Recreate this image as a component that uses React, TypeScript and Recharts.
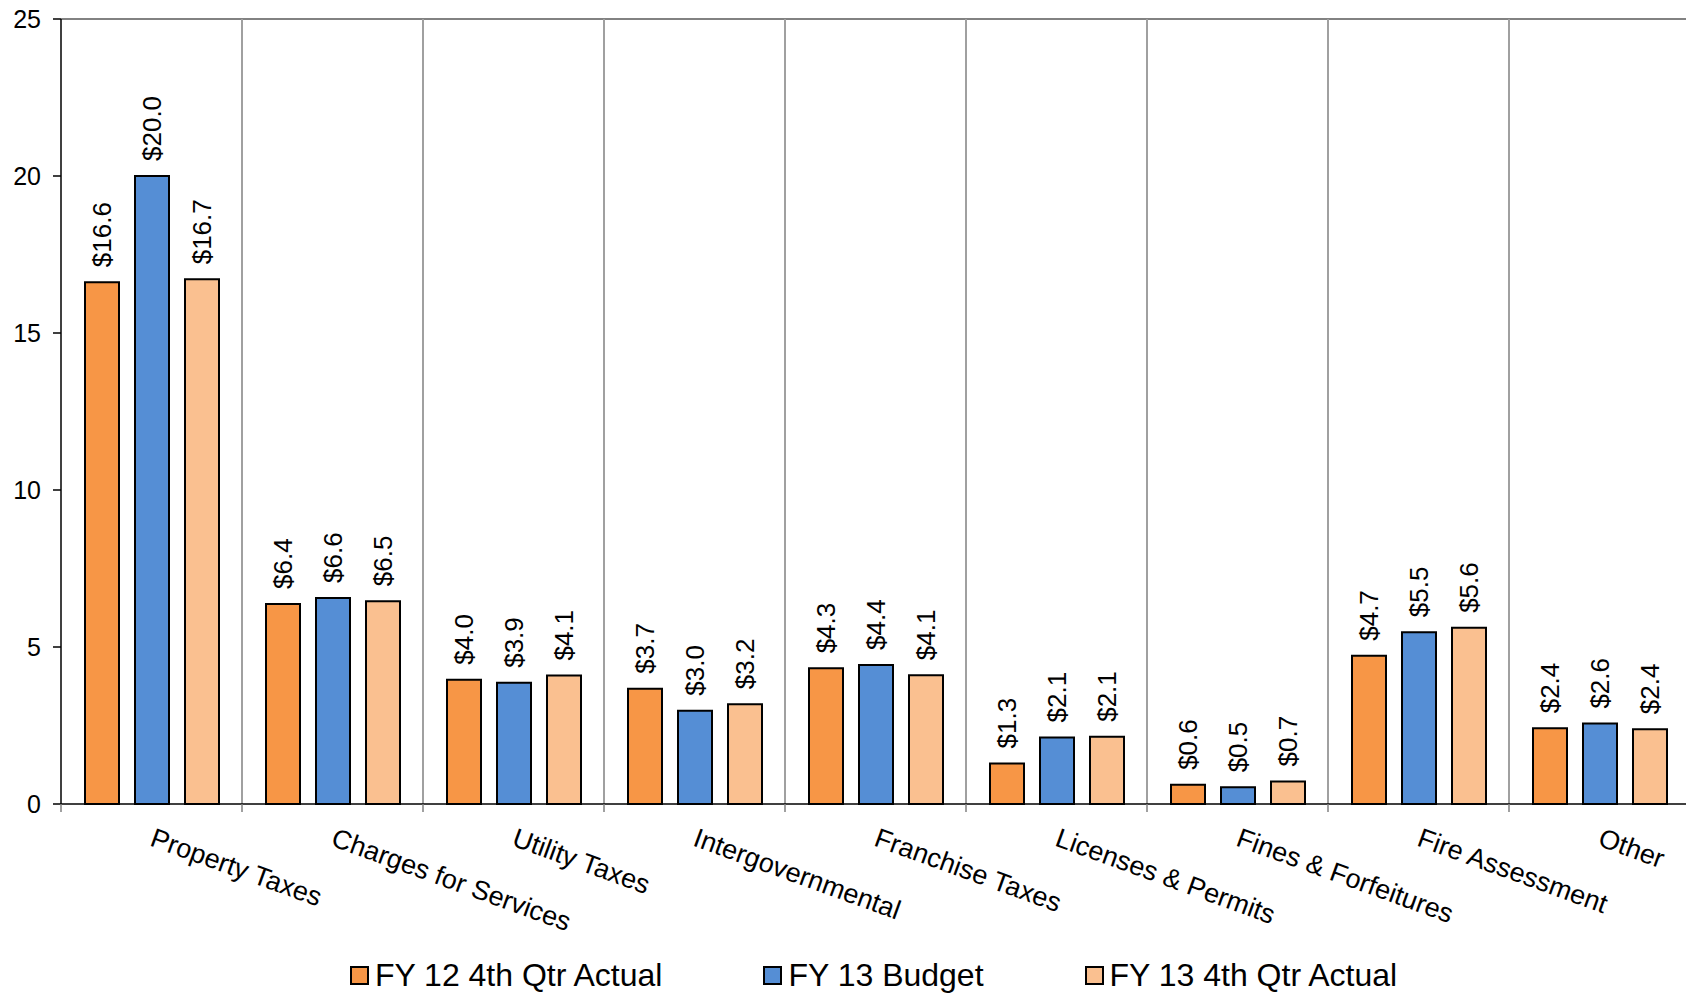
import { BarChart, Bar, XAxis, YAxis, CartesianGrid, Legend, LabelList } from 'recharts';

const categories = [
  'Property Taxes',
  'Charges for Services',
  'Utility Taxes',
  'Intergovernmental',
  'Franchise Taxes',
  'Licenses & Permits',
  'Fines & Forfeitures',
  'Fire Assessment',
  'Other',
];

const fy12Actual = [16.62, 6.37, 3.96, 3.67, 4.32, 1.29, 0.61, 4.72, 2.41];
const fy13Budget = [20.0, 6.56, 3.86, 2.97, 4.43, 2.12, 0.53, 5.47, 2.56];
const fy13Actual = [16.71, 6.46, 4.09, 3.18, 4.1, 2.14, 0.72, 5.61, 2.38];

const yTicks = [0, 5, 10, 15, 20, 25];

const series = [
  { key: 'fy12', name: 'FY 12 4th Qtr Actual', color: '#F79646' },
  { key: 'fy13b', name: 'FY 13 Budget', color: '#558ED5' },
  { key: 'fy13', name: 'FY 13 4th Qtr Actual', color: '#FAC090' },
];

const data = categories.map((name, i) => ({
  name,
  fy12: fy12Actual[i],
  fy13b: fy13Budget[i],
  fy13: fy13Actual[i],
}));

const FONT = "'Liberation Sans', Arial, sans-serif";

function ValueLabel(props: any) {
  const { x, y, width, value } = props;
  const cx = Number(x) + Number(width) / 2;
  const ty = Number(y) - 15;
  return (
    <text
      x={cx}
      y={ty}
      dy="0.36em"
      transform={`rotate(-90, ${cx}, ${ty})`}
      textAnchor="start"
      fontSize={26}
      fill="#000"
    >
      {`$${Number(value).toFixed(1)}`}
    </text>
  );
}

function CategoryTick(props: any) {
  const { x, y, payload, index } = props;
  const half = payload.offset || 90.5;
  const tx = x + 4;
  const ty = y + 23;
  return (
    <g>
      <line x1={x - half} x2={x - half} y1={y} y2={y + 8} stroke="#808080" strokeWidth={1.5} />
      {index === categories.length - 1 && (
        <line x1={x + half} x2={x + half} y1={y} y2={y + 8} stroke="#808080" strokeWidth={1.5} />
      )}
      <text
        x={tx}
        y={ty}
        dy="0.72em"
        transform={`rotate(20, ${tx}, ${ty})`}
        textAnchor="start"
        fontSize={27}
        fill="#000"
      >
        {payload.value}
      </text>
    </g>
  );
}

function LegendContent() {
  return (
    <div
      style={{
        boxSizing: 'border-box',
        paddingLeft: 57,
        height: 40,
        display: 'flex',
        justifyContent: 'center',
        alignItems: 'center',
        gap: 101,
        fontSize: 32,
        color: '#000',
      }}
    >
      {series.map((s) => (
        <span key={s.key} style={{ display: 'flex', alignItems: 'center' }}>
          <span
            style={{
              width: 15,
              height: 15,
              background: s.color,
              border: '2px solid #000',
              marginRight: 6,
            }}
          />
          {s.name}
        </span>
      ))}
    </div>
  );
}

export default function App() {
  return (
    <div
      style={{
        position: 'absolute',
        left: 0,
        top: 0,
        width: 1686,
        height: 995,
        overflow: 'hidden',
        background: '#fff',
        fontFamily: FONT,
      }}
    >
      <BarChart
        width={1690}
        height={995}
        data={data}
        margin={{ top: 19, right: 0, bottom: 0, left: 0 }}
        barCategoryGap={24}
        barGap={16}
      >
        <CartesianGrid
          vertical={false}
          stroke="#595959"
          strokeWidth={1.5}
          horizontalCoordinatesGenerator={({ offset }: any) => [offset.top]}
        />
        <CartesianGrid
          horizontal={false}
          stroke="#A0A0A0"
          strokeWidth={2}
          verticalCoordinatesGenerator={({ offset }: any) =>
            categories.slice(1).map((_, i) => offset.left + ((i + 1) * offset.width) / categories.length)
          }
        />
        <XAxis
          dataKey="name"
          height={151}
          interval={0}
          tickLine={false}
          tickSize={0}
          tickMargin={0}
          axisLine={{ stroke: '#000', strokeWidth: 1.5 }}
          tick={<CategoryTick />}
        />
        <YAxis
          width={61}
          domain={[0, 25]}
          ticks={yTicks}
          interval={0}
          tickSize={8}
          tickMargin={12}
          tickLine={{ stroke: '#000', strokeWidth: 1.5 }}
          axisLine={{ stroke: '#000', strokeWidth: 1.5 }}
          tick={{ fontSize: 25, fill: '#000' }}
        />
        <Legend verticalAlign="bottom" content={<LegendContent />} />
        {series.map((s) => (
          <Bar
            key={s.key}
            dataKey={s.key}
            name={s.name}
            fill={s.color}
            stroke="#000"
            strokeWidth={2}
            isAnimationActive={false}
          >
            <LabelList dataKey={s.key} content={<ValueLabel />} />
          </Bar>
        ))}
      </BarChart>
    </div>
  );
}
